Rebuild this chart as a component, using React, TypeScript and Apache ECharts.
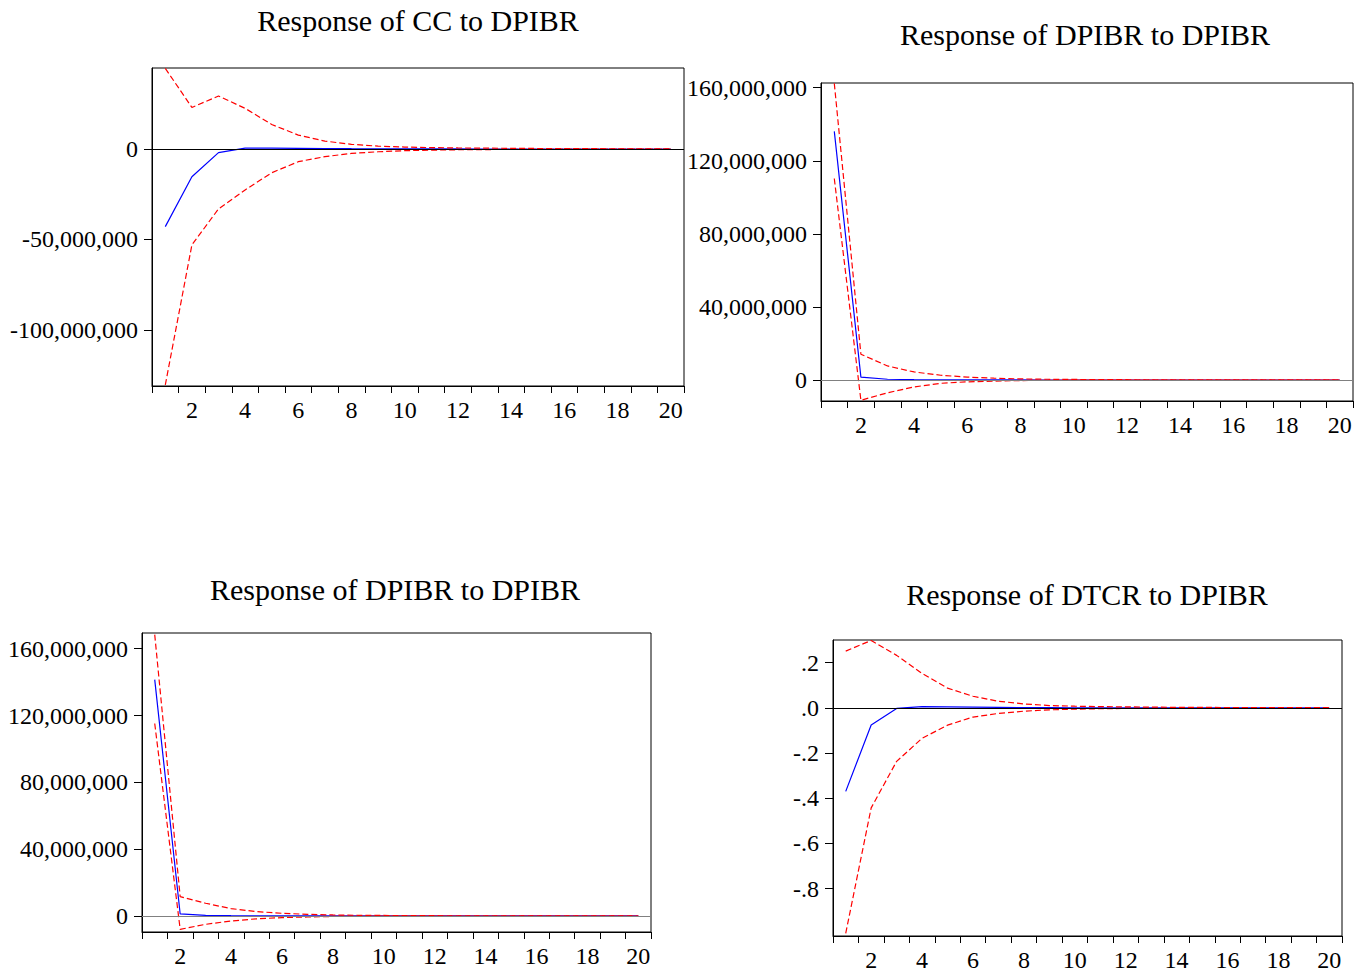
import { useEffect, useRef } from "react";
import * as echarts from "echarts";

const periods = ["1", "2", "3", "4", "5", "6", "7", "8", "9", "10", "11", "12", "13", "14", "15", "16", "17", "18", "19", "20"];

const titles = ["Response of CC to DPIBR", "Response of DPIBR to DPIBR", "Response of DPIBR to DPIBR", "Response of DTCR to DPIBR"];

// Panel 1: CC to DPIBR
const cc_resp = [-42.9e6, -15.3e6, -2.0e6, 0.5e6, 0.5e6, 0.4e6, 0.3e6, 0.2e6, 0.15e6, 0.1e6, 0.06e6, 0.04e6, 0.03e6, 0.02e6, 0.01e6, 0.01e6, 0.0, 0.0, 0.0, 0.0];
const cc_upper = [44.6e6, 23.0e6, 29.3e6, 22.5e6, 13.6e6, 7.7e6, 4.4e6, 2.6e6, 1.6e6, 1.1e6, 0.8e6, 0.6e6, 0.5e6, 0.4e6, 0.3e6, 0.25e6, 0.2e6, 0.15e6, 0.12e6, 0.1e6];
const cc_lower = [-130.4e6, -53.0e6, -33.1e6, -22.6e6, -13.1e6, -7.0e6, -4.2e6, -2.4e6, -1.5e6, -0.9e6, -0.6e6, -0.4e6, -0.3e6, -0.2e6, -0.15e6, -0.1e6, -0.08e6, -0.06e6, -0.05e6, -0.04e6];
const cc_ticks = [-100e6, -50e6, 0];

// Panel 2: DPIBR to DPIBR
const d1_resp = [136.1e6, 1.6e6, 0.4e6, 0.2e6, 0.1e6, 0.05e6, 0.03e6, 0.02e6, 0.01e6, 0.01e6, 0.0, 0.0, 0.0, 0.0, 0.0, 0.0, 0.0, 0.0, 0.0, 0.0];
const d1_upper = [162.4e6, 14.1e6, 7.7e6, 4.4e6, 2.6e6, 1.6e6, 1.0e6, 0.6e6, 0.4e6, 0.3e6, 0.2e6, 0.15e6, 0.1e6, 0.08e6, 0.06e6, 0.05e6, 0.04e6, 0.03e6, 0.02e6, 0.02e6];
const d1_lower = [110.3e6, -11.1e6, -7.0e6, -3.8e6, -1.8e6, -1.0e6, -0.6e6, -0.3e6, -0.2e6, -0.1e6, -0.08e6, -0.06e6, -0.04e6, -0.03e6, -0.02e6, -0.02e6, -0.01e6, -0.01e6, -0.01e6, -0.01e6];
const d1_ticks = [0, 40e6, 80e6, 120e6, 160e6];

// Panel 3: DPIBR to DPIBR
const d2_resp = [141.5e6, 1.2e6, 0.3e6, 0.15e6, 0.1e6, 0.05e6, 0.03e6, 0.02e6, 0.01e6, 0.01e6, 0.0, 0.0, 0.0, 0.0, 0.0, 0.0, 0.0, 0.0, 0.0, 0.0];
const d2_upper = [168.4e6, 11.6e6, 7.6e6, 4.4e6, 2.6e6, 1.6e6, 1.0e6, 0.6e6, 0.4e6, 0.3e6, 0.2e6, 0.15e6, 0.1e6, 0.08e6, 0.06e6, 0.05e6, 0.04e6, 0.03e6, 0.02e6, 0.02e6];
const d2_lower = [115.2e6, -8.0e6, -5.0e6, -3.0e6, -1.7e6, -1.0e6, -0.6e6, -0.3e6, -0.2e6, -0.1e6, -0.08e6, -0.06e6, -0.04e6, -0.03e6, -0.02e6, -0.02e6, -0.01e6, -0.01e6, -0.01e6, -0.01e6];
const d2_ticks = [0, 40e6, 80e6, 120e6, 160e6];

// Panel 4: DTCR to DPIBR
const dt_resp = [-0.370, -0.076, -0.003, 0.005, 0.004, 0.003, 0.002, 0.001, 0.001, 0.0, 0.0, 0.0, 0.0, 0.0, 0.0, 0.0, 0.0, 0.0, 0.0, 0.0];
const dt_upper = [0.251, 0.298, 0.232, 0.152, 0.087, 0.051, 0.029, 0.017, 0.010, 0.007, 0.005, 0.004, 0.003, 0.002, 0.002, 0.001, 0.001, 0.001, 0.001, 0.001];
const dt_lower = [-0.998, -0.443, -0.237, -0.135, -0.077, -0.041, -0.025, -0.015, -0.009, -0.006, -0.004, -0.003, -0.002, -0.002, -0.001, -0.001, -0.001, -0.001, -0.001, -0.001];
const dt_ticks = [-0.8, -0.6, -0.4, -0.2, 0, 0.2];

const FONT = "Liberation Serif, Times New Roman, serif";

const bigFmt = (v: number) => Math.round(v).toLocaleString("en-US");
const smallFmt = (v: number) => {
  const r = Math.round(v * 10) / 10;
  if (r === 0) return ".0";
  return (r < 0 ? "-" : "") + Math.abs(r).toFixed(1).replace(/^0/, "");
};

export default function App() {
  const ref = useRef<HTMLDivElement>(null);
  useEffect(() => {
    if (!ref.current) return;
    const chart = echarts.init(ref.current, null, { renderer: "svg" });

    const panels = [
      { grid: { left: 152, top: 68, width: 532, height: 318 }, min: -131e6, max: 44.8e6, ticks: cc_ticks, fmt: bigFmt, resp: cc_resp, up: cc_upper, lo: cc_lower, zero: "#000000", title: { x: 413, y: 0 } },
      { grid: { left: 821, top: 83, width: 532, height: 318 }, min: -11.5e6, max: 162.6e6, ticks: d1_ticks, fmt: bigFmt, resp: d1_resp, up: d1_upper, lo: d1_lower, zero: "#808080", title: { x: 1080, y: 14 } },
      { grid: { left: 142, top: 633, width: 509, height: 299 }, min: -9.6e6, max: 169.4e6, ticks: d2_ticks, fmt: bigFmt, resp: d2_resp, up: d2_upper, lo: d2_lower, zero: "#808080", title: { x: 390, y: 569 } },
      { grid: { left: 833, top: 640, width: 509, height: 300 }, min: -1.01, max: 0.3, ticks: dt_ticks, fmt: smallFmt, resp: dt_resp, up: dt_upper, lo: dt_lower, zero: "#000000", title: { x: 1082, y: 574 } },
    ];

    const option: any = {
      animation: false,
      backgroundColor: "#ffffff",
      title: panels.map((p, i) => ({
        text: titles[i],
        left: p.title.x,
        top: p.title.y,
        textAlign: "center",
        textStyle: { fontFamily: FONT, fontSize: 30, fontWeight: "normal", color: "#000000" },
      })),
      grid: panels.map((p) => ({ ...p.grid, show: true, borderColor: "#000000", borderWidth: 1, backgroundColor: "transparent" })),
      xAxis: panels.map((_, i) => ({
        type: "category",
        gridIndex: i,
        data: periods,
        boundaryGap: true,
        axisLine: { show: true, onZero: false, lineStyle: { color: "#000000", width: 1 } },
        axisTick: { show: true, interval: 0, length: 7, lineStyle: { color: "#000000" } },
        axisLabel: {
          interval: (idx: number) => idx % 2 === 1,
          margin: 12,
          fontFamily: FONT,
          fontSize: 24,
          color: "#000000",
        },
        splitLine: { show: false },
      })),
      yAxis: panels.map((p, i) => ({
        type: "value",
        gridIndex: i,
        min: p.min,
        max: p.max,
        axisLine: { show: true, lineStyle: { color: "#000000", width: 1 } },
        axisTick: { show: true, length: 8, customValues: p.ticks, lineStyle: { color: "#000000" } },
        axisLabel: {
          customValues: p.ticks,
          formatter: p.fmt,
          margin: 14,
          padding: [0, 0, 5, 0],
          fontFamily: FONT,
          fontSize: 24,
          color: "#000000",
        },
        splitLine: { show: false },
      })),
      series: panels.flatMap((p, i) => [
        {
          type: "line",
          xAxisIndex: i,
          yAxisIndex: i,
          data: p.resp,
          symbol: "none",
          lineStyle: { color: "#0000ff", width: 1.2 },
          markLine: {
            silent: true,
            symbol: ["none", "none"],
            label: { show: false },
            lineStyle: { color: p.zero, type: "solid", width: 1 },
            data: [{ yAxis: 0 }],
          },
          z: 2,
        },
        {
          type: "line",
          xAxisIndex: i,
          yAxisIndex: i,
          data: p.up,
          symbol: "none",
          lineStyle: { color: "#ff0000", width: 1.2, type: [6, 3] },
          z: 3,
        },
        {
          type: "line",
          xAxisIndex: i,
          yAxisIndex: i,
          data: p.lo,
          symbol: "none",
          lineStyle: { color: "#ff0000", width: 1.2, type: [6, 3] },
          z: 3,
        },
      ]),
    };
    chart.setOption(option);
    return () => chart.dispose();
  }, []);
  return <div ref={ref} style={{ position: "absolute", left: 0, top: 0, width: 1368, height: 972 }} />;
}
